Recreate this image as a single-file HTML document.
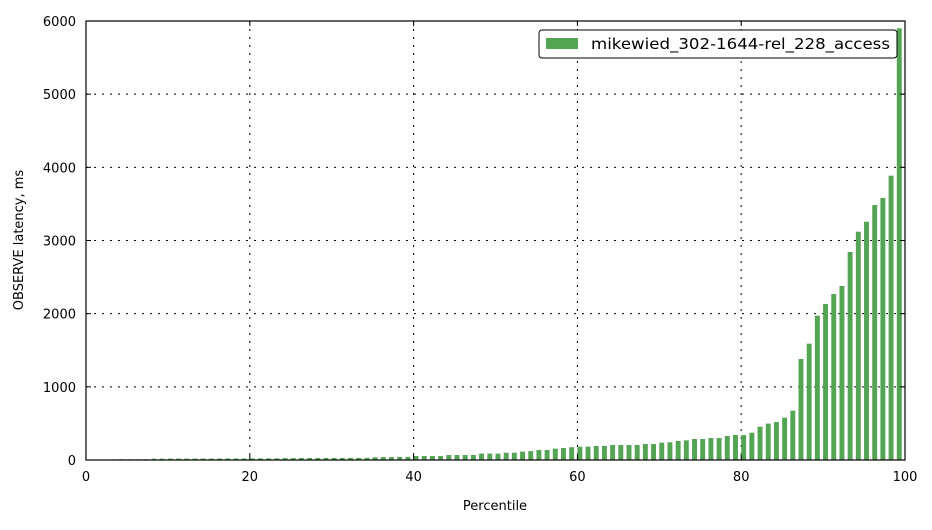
<!DOCTYPE html>
<html><head><meta charset="utf-8"><style>
body{margin:0;background:#fff;}
svg text{font-family:"DejaVu Sans","Liberation Sans",sans-serif;font-size:13px;fill:#000;}
</style></head><body>
<svg id="chart" width="932" height="525">
<rect x="0" y="0" width="932" height="525" fill="#fff"/>
<g id="grid"></g>
<g id="bars"></g>
<g id="axes"></g>
<text x="495" y="510" text-anchor="middle">Percentile</text>
<text transform="translate(23,240) rotate(-90)" text-anchor="middle">OBSERVE latency, ms</text>
<g>
<rect x="539" y="30" width="358" height="28" fill="#fff" stroke="#000" stroke-width="1" rx="3"/>
<rect x="546" y="38" width="32" height="11" fill="#53a453"/>
<text x="591" y="49" style="font-size:15.5px" textLength="299" lengthAdjust="spacingAndGlyphs">mikewied_302-1644-rel_228_access</text>
</g>
</svg>
<script>
const percentiles=[];for(let i=0;i<100;i++)percentiles.push(i);
const latency=[3,5,8,9,10,10,10,11,18,18,19,19,19,20,20,20,20,21,21,21,22,22,22,23,26,26,27,27,27,28,28,28,29,29,30,38,40,40,42,42,
55,55,55,55,68,68,68,68,87,87,87,100,100,114,121,137,137,155,164,175,182,182,191,191,205,205,205,205,219,219,237,242,260,269,287,287,300,300,328,342,
342,373,455,497,519,578,674,1380,1590,1973,2132,2269,2378,2843,3120,3257,3485,3581,3886,5900];
const xTicks=[0,20,40,60,80,100];
const yTicks=[0,1000,2000,3000,4000,5000,6000];
const X0=86,X1=905,Y0=460,Y1=21;
const xs=v=>X0+(v/100)*(X1-X0);
const ys=v=>Y0-(v/6000)*(Y0-Y1);
const NS="http://www.w3.org/2000/svg";
function mk(t,a,p){const e=document.createElementNS(NS,t);for(const k in a)e.setAttribute(k,a[k]);p.appendChild(e);return e;}
const grid=document.getElementById('grid'),bars=document.getElementById('bars'),axes=document.getElementById('axes');
xTicks.forEach(t=>{
 const l=mk('line',{x1:xs(t),x2:xs(t),y1:Y1,y2:Y0,stroke:'#000','stroke-dasharray':'2,6'},grid);
 
 
 mk('line',{x1:xs(t),x2:xs(t),y1:Y0,y2:Y0-5,stroke:'#000'},axes);
 mk('line',{x1:xs(t),x2:xs(t),y1:Y1,y2:Y1+5,stroke:'#000'},axes);
 const tx=mk('text',{x:xs(t),y:Y0+21,'text-anchor':'middle'},axes);tx.textContent=t;
 
 
});
yTicks.forEach(t=>{
 const l=mk('line',{x1:X0,x2:X1,y1:ys(t),y2:ys(t),stroke:'#000','stroke-dasharray':'2,6'},grid);
 
 
 mk('line',{x1:X0,x2:X0+5,y1:ys(t),y2:ys(t),stroke:'#000'},axes);
 mk('line',{x1:X1,x2:X1-5,y1:ys(t),y2:ys(t),stroke:'#000'},axes);
 const tx=mk('text',{x:X0-10,y:ys(t)+5,'text-anchor':'end'},axes);tx.textContent=t;
 
 
});
percentiles.forEach((p,i)=>{
 const v=latency[i];
 const r=mk('rect',{x:xs(p),y:ys(v),width:(X1-X0)/100*0.6,height:Y0-ys(v),fill:'#53a453'},bars);
 
 
});
const fr=mk('rect',{x:X0,y:Y1,width:X1-X0,height:Y0-Y1,fill:'none',stroke:'#000','stroke-width':1.2},axes);


</script>
</body></html>
